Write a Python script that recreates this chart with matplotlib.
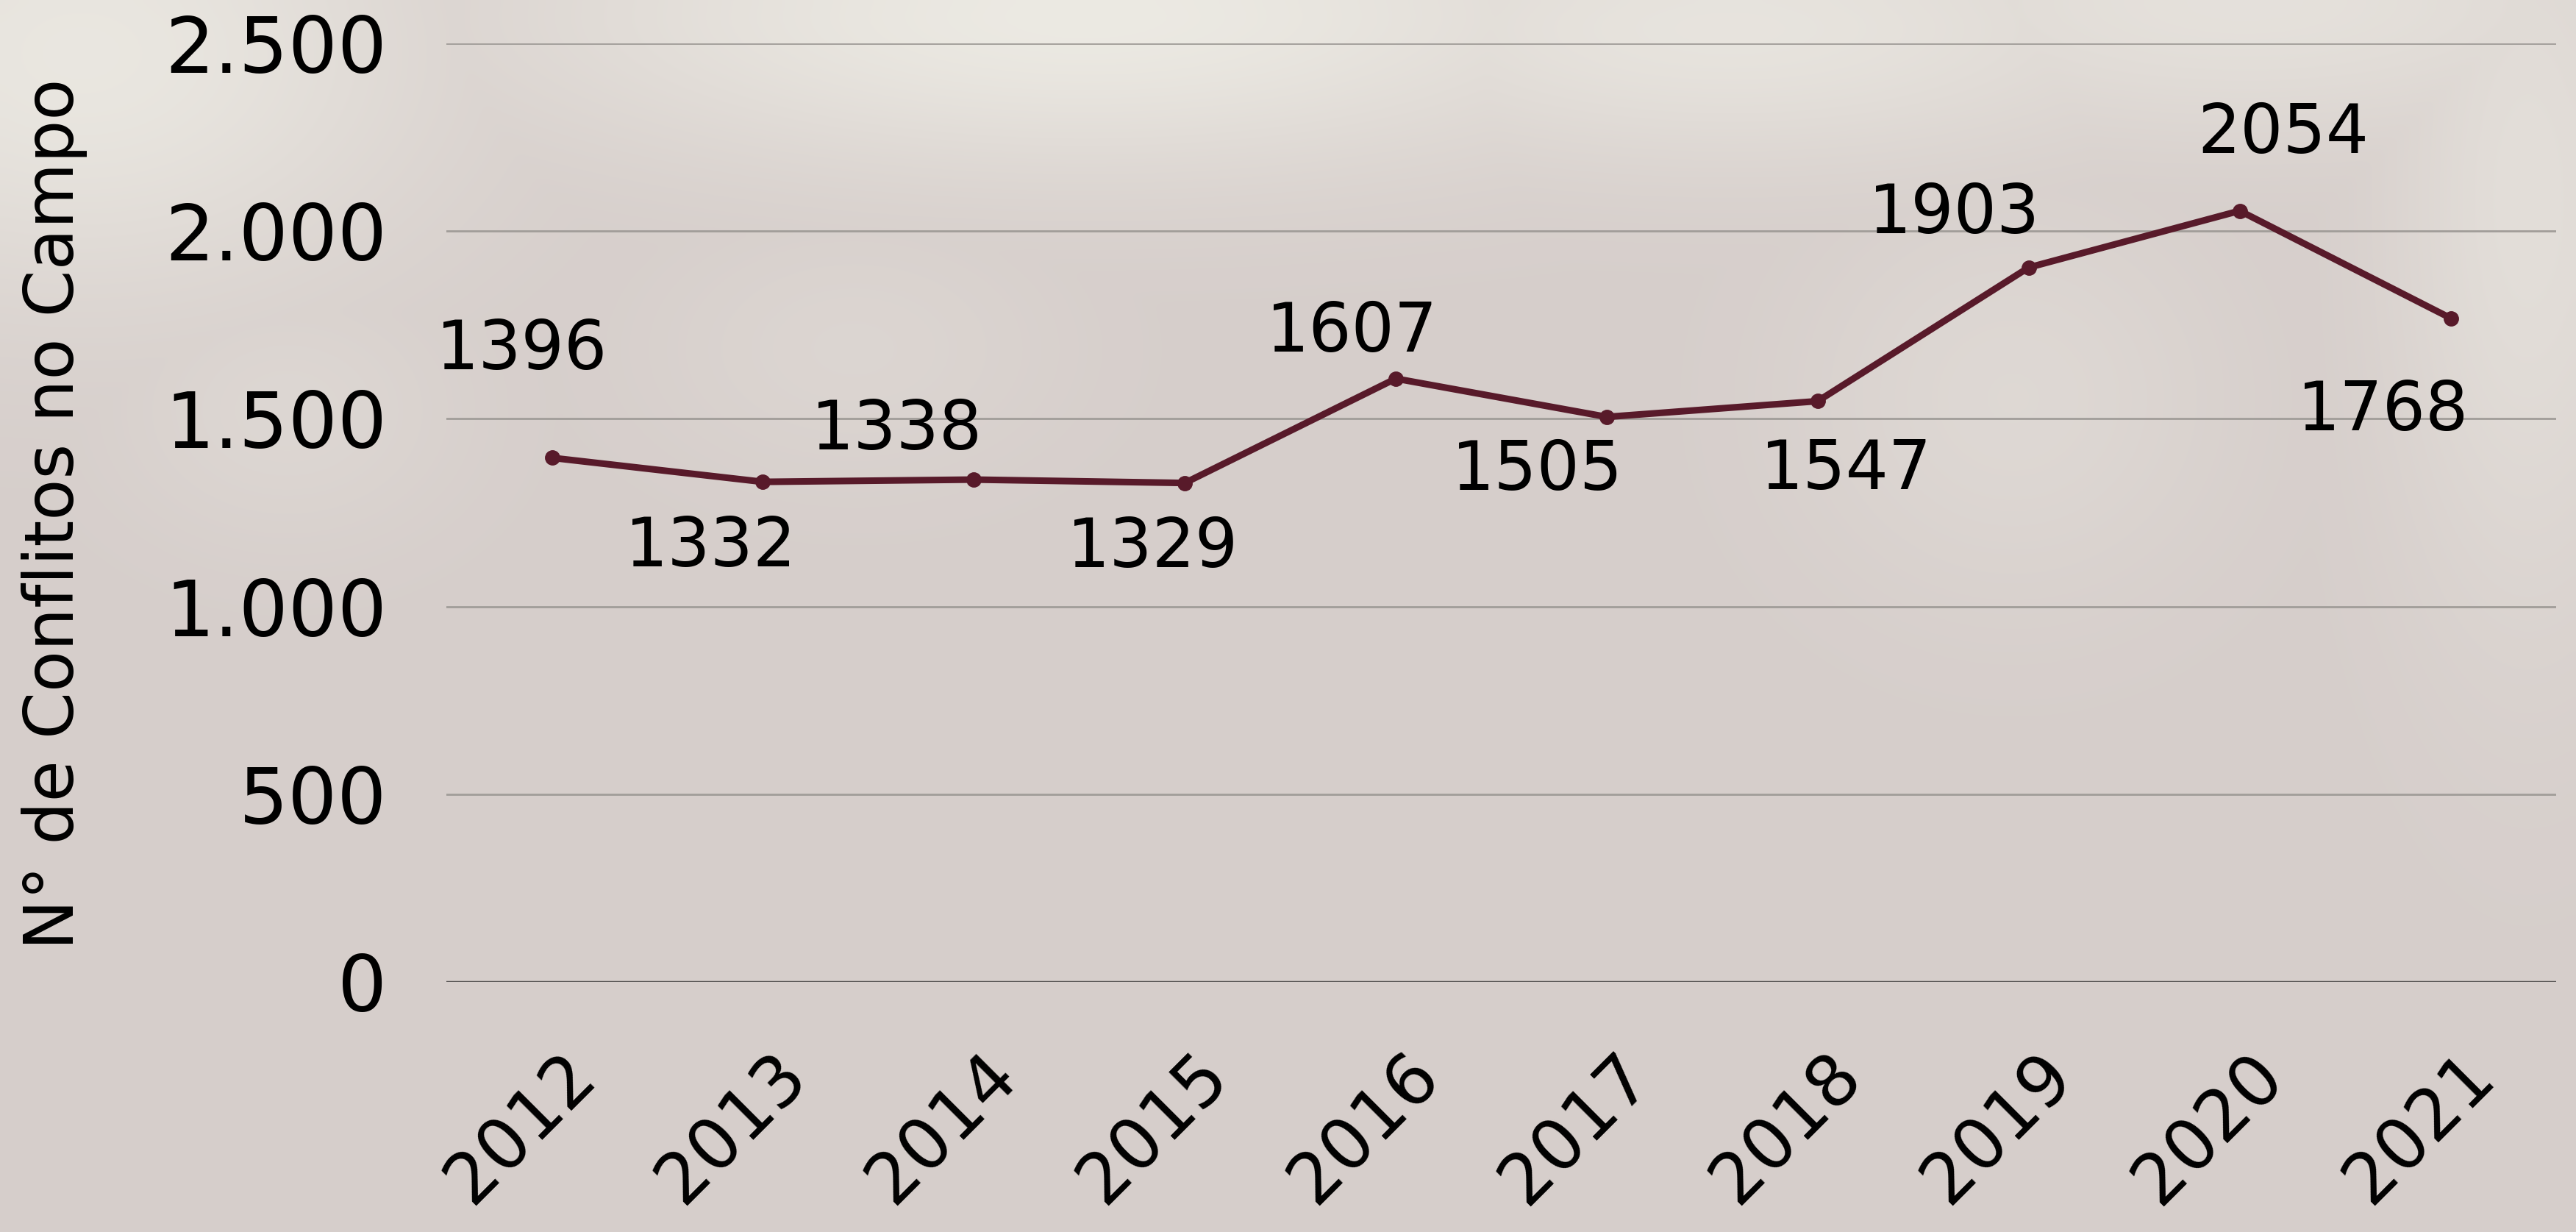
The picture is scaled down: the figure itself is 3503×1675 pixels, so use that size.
import numpy as np
import matplotlib
matplotlib.use('Agg')
from matplotlib import pyplot as plt
from matplotlib.transforms import ScaledTranslation

years = ['2012', '2013', '2014', '2015', '2016', '2017', '2018', '2019', '2020', '2021']
conflitos = [1396, 1332, 1338, 1329, 1607, 1505, 1547, 1903, 2054, 1768]
y_ticks = [0, 500, 1000, 1500, 2000, 2500]
y_tick_labels = ['0', '500', '1.000', '1.500', '2.000', '2.500']
y_label = 'N° de Conflitos no Campo'

# where each value label sits relative to its point (pixels)
label_offsets = [(-41, 146), (-71, -89), (-105, 67), (-44, -88), (-60, 63),
                 (-94, -73), (39, -94), (-101, 73), (59, 105), (-92, -126)]

line_color = '#581a2a'
base_bg = np.array([214, 206, 203]) / 255
light_bg = np.array([237, 235, 228]) / 255

plt.rcParams['font.family'] = ['DejaVu Sans']

fig = plt.figure(figsize=(35.03, 16.75), dpi=100)

# blurred photo-like background: a few soft light patches
H, W = 150, 314
yy, xx = np.mgrid[0:H, 0:W]
xx = xx / W
yy = yy / H
blobs = [(0.03, 0.04, 0.10, 0.14, 0.85), (0.42, 0.01, 0.16, 0.09, 0.95),
         (0.67, 0.02, 0.13, 0.08, 0.75), (0.87, 0.0, 0.13, 0.08, 0.65),
         (0.98, 0.16, 0.04, 0.25, 0.55), (0.78, 0.32, 0.06, 0.12, 0.35),
         (0.11, 0.33, 0.05, 0.08, 0.3), (0.33, 0.28, 0.06, 0.08, 0.25)]
w = np.zeros((H, W))
for cx, cy, sx, sy, s in blobs:
    w = np.maximum(w, s * np.exp(-((xx - cx) ** 2 / (2 * sx ** 2) + (yy - cy) ** 2 / (2 * sy ** 2))))
img = base_bg[None, None, :] * (1 - w[..., None]) + light_bg[None, None, :] * w[..., None]
bg = fig.add_axes([0, 0, 1, 1], zorder=-1)
bg.imshow(img, aspect='auto', interpolation='bicubic', extent=[0, 1, 0, 1])
bg.axis('off')

ax = fig.add_axes([0.1733, 0.2030, 0.8190, 0.7618])
ax.patch.set_alpha(0)
x = np.arange(len(years))
ax.plot(x, conflitos, color=line_color, lw=6.5, marker='o', markersize=14,
        solid_joinstyle='round', zorder=3)

for xi, v, off in zip(x, conflitos, label_offsets):
    ax.annotate(str(v), (xi, v), xytext=off, textcoords='offset pixels',
                ha='center', va='center', fontsize=66, color='black')

ax.set_xlim(-0.5, len(years) - 0.5)
ax.set_ylim(0, 2500)
ax.set_yticks(y_ticks)
ax.set_yticklabels(y_tick_labels, fontsize=76)
ax.set_xticks(x)
ax.set_xticklabels(years, fontsize=69, rotation=45, ha='center')
ax.tick_params(axis='y', length=0, pad=58)
ax.tick_params(axis='x', length=0, pad=58)
for lab in ax.get_xticklabels():
    lab.set_transform(lab.get_transform() + ScaledTranslation(-0.42, 0, fig.dpi_scale_trans))

for t in y_ticks[1:]:
    ax.axhline(t, color='#a19d99', lw=2, zorder=1)
ax.axhline(0, color='#5a5756', lw=2.5, zorder=2)
for s in ax.spines.values():
    s.set_visible(False)

fig.text(0.021, 0.583, y_label, rotation=90, ha='center', va='center', fontsize=66)

fig.savefig('out.png', dpi=100)
